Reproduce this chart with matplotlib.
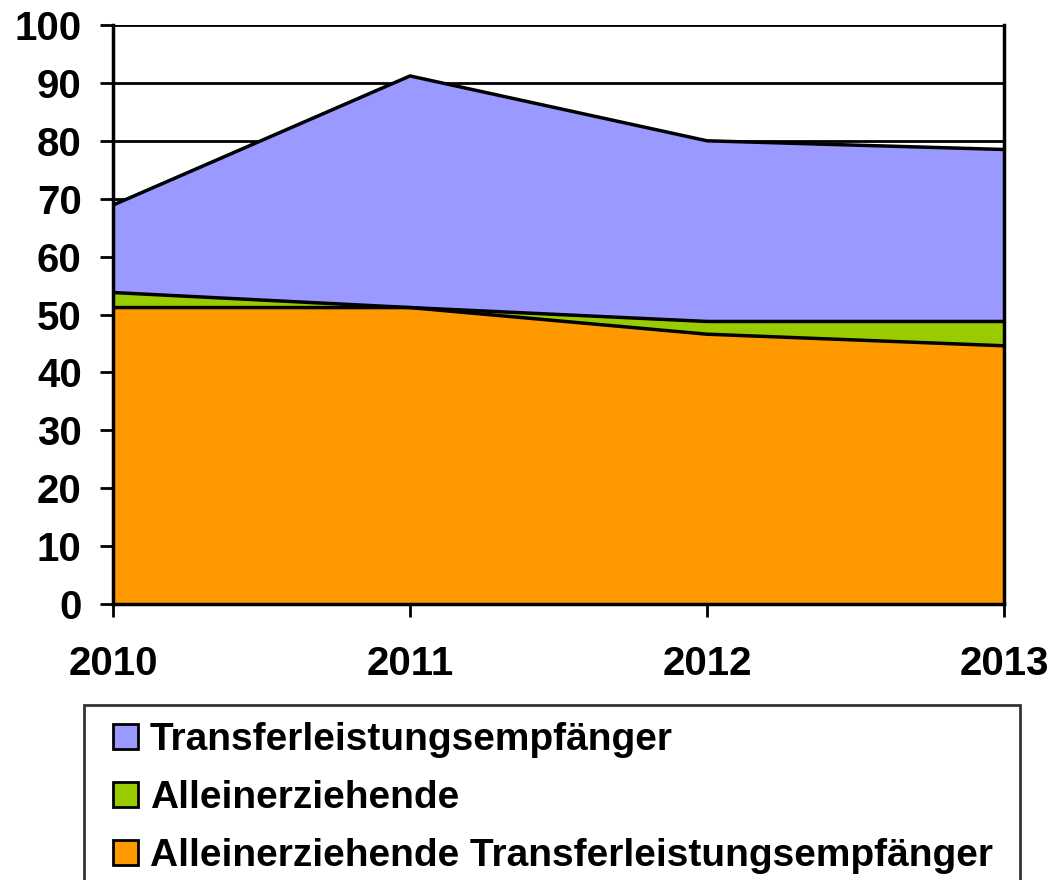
import matplotlib
matplotlib.use("Agg")
import matplotlib.pyplot as plt
from matplotlib.patches import Patch, Rectangle
from matplotlib.legend_handler import HandlerPatch

plt.rcParams['font.family'] = ['Liberation Sans', 'DejaVu Sans']
plt.rcParams['font.weight'] = 'bold'

# Daten (gestapelt, von unten nach oben)
jahre = [2010, 2011, 2012, 2013]
allein_transfer = [51.2, 51.2, 46.6, 44.6]
allein = [2.6, 0.0, 2.2, 4.2]
transfer = [15.1, 40.0, 31.2, 29.7]

labels = ['Transferleistungsempfänger', 'Alleinerziehende',
          'Alleinerziehende Transferleistungsempfänger']
farben = ['#9999ff', '#99cc00', '#ff9900']

unten = allein_transfer
mitte = [a + b for a, b in zip(unten, allein)]
oben = [a + b for a, b in zip(mitte, transfer)]

fig = plt.figure(figsize=(10.55, 8.8), dpi=100)
ax = fig.add_axes([0.1071, 0.3136, 0.8446, 0.658])

# Gitterlinien
ax.set_axisbelow(True)
ax.yaxis.grid(True, color='black', linewidth=2)

# Flächen
ax.fill_between(jahre, 0, unten, color=farben[2], linewidth=0)
ax.fill_between(jahre, unten, mitte, color=farben[1], linewidth=0)
ax.fill_between(jahre, mitte, oben, color=farben[0], linewidth=0)
ax.plot(jahre, unten, color='black', linewidth=2.5)
ax.plot(jahre, mitte, color='black', linewidth=2.5)
ax.plot(jahre, oben, color='black', linewidth=2.5)

ax.set_xlim(2010, 2013)
ax.set_ylim(0, 100)
ax.set_xticks(jahre)
ax.set_yticks(range(0, 101, 10))
ax.tick_params(axis='y', labelsize=29, width=2, length=9.5, pad=13)
ax.tick_params(axis='x', labelsize=29, width=2, length=9.5, pad=20)
for s in ax.spines.values():
    s.set_linewidth(2.5)
ax.spines['top'].set_visible(False)


# quadratische Legendensymbole, etwas nach rechts versetzt
def quadrat(legend, orig_handle, xdescent, ydescent, width, height, fontsize):
    return Rectangle((-xdescent + width - height, -ydescent), height, height)


handles = [Patch(facecolor=f, edgecolor='black', linewidth=2) for f in farben]
leg = fig.legend(handles, labels, loc='upper left',
                 bbox_to_anchor=(0.0796, 0.199, 0.887, 0.0),
                 mode='expand', fontsize=28, frameon=True, fancybox=False,
                 edgecolor='black', handlelength=0.94, handleheight=0.6,
                 handletextpad=0.31, labelspacing=0.56, borderpad=0.45,
                 borderaxespad=0,
                 handler_map={Patch: HandlerPatch(patch_func=quadrat)})
leg.get_frame().set_linewidth(2)

fig.savefig('out.png', dpi=100)
